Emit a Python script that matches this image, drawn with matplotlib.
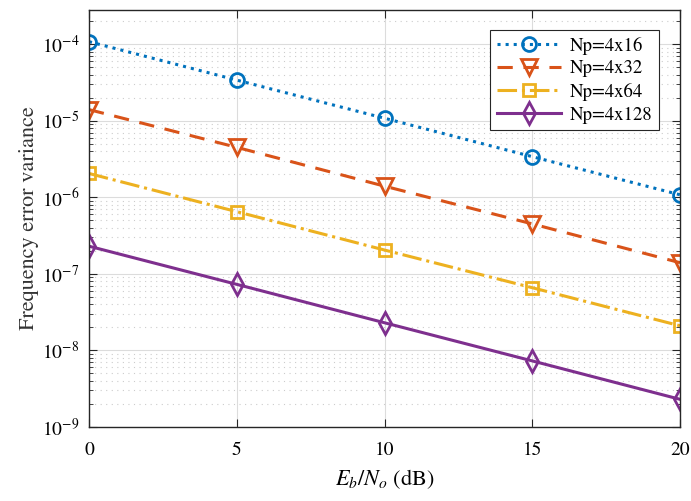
import matplotlib
matplotlib.use("Agg")
import matplotlib.pyplot as plt
from matplotlib.ticker import LogLocator, NullFormatter

plt.rcParams['font.family'] = 'STIXGeneral'
plt.rcParams['mathtext.fontset'] = 'stix'

ebno = [0, 5, 10, 15, 20]
var_16 = [1.08e-4, 3.4e-5, 1.08e-5, 3.4e-6, 1.08e-6]
var_32 = [1.4e-5, 4.5e-6, 1.4e-6, 4.5e-7, 1.4e-7]
var_64 = [2.05e-6, 6.5e-7, 2.05e-7, 6.6e-8, 2.1e-8]
var_128 = [2.3e-7, 7.3e-8, 2.3e-8, 7.3e-9, 2.3e-9]
labels = ['Np=4x16', 'Np=4x32', 'Np=4x64', 'Np=4x128']

fig = plt.figure(figsize=(6.91, 5.01), dpi=100)
ax = fig.add_axes([89/691, 74/501, 591/691, 417/501])

ax.semilogy(ebno, var_16, ':', color='#0072BD', lw=2.2, marker='o', ms=10,
            mfc='none', mew=2, label=labels[0])
ax.semilogy(ebno, var_32, '--', color='#D95319', lw=2.2, marker='v', ms=11,
            mfc='none', mew=2, dashes=(5, 3.5), label=labels[1])
ax.semilogy(ebno, var_64, '-.', color='#EDB120', lw=2.2, marker='s', ms=8,
            mfc='none', mew=2, label=labels[2])
ax.semilogy(ebno, var_128, '-', color='#7E2F8E', lw=2.2, marker='d', ms=11,
            mfc='none', mew=2, label=labels[3])

ax.set_xlim(0, 20)
ax.set_ylim(1e-9, 2.8e-4)
ax.set_xticks([0, 5, 10, 15, 20])
ax.yaxis.set_major_locator(LogLocator(base=10, numticks=20))
ax.yaxis.set_minor_locator(LogLocator(base=10, subs=range(2, 10), numticks=20))
ax.yaxis.set_minor_formatter(NullFormatter())

ax.grid(True, which='major', color='#dcdcdc', lw=0.8, ls='-')
ax.grid(True, which='minor', axis='y', color='#cccccc', lw=0.8, ls=(0, (1, 4)))
ax.tick_params(which='both', direction='in', top=True, right=True,
               labelsize=14, color='#262626')
ax.tick_params(axis='x', pad=11)
ax.tick_params(axis='y', pad=7)
ax.tick_params(which='major', length=6)
ax.tick_params(which='minor', length=3)
for s in ax.spines.values():
    s.set_color('#262626')
    s.set_linewidth(1)

ax.set_xlabel(r'$E_b/N_o$ (dB)', fontsize=16, labelpad=6)
ax.set_ylabel('Frequency error variance', fontsize=16, color='#333333',
              labelpad=2)

leg = ax.legend(loc='upper right', bbox_to_anchor=(0.965, 0.952), fontsize=13.5,
                fancybox=False, framealpha=1, edgecolor='#262626',
                handlelength=3.4, borderpad=0.35, labelspacing=0.3,
                handletextpad=0.5, borderaxespad=0)
leg.get_frame().set_linewidth(0.8)

fig.savefig('out.png', dpi=100)
